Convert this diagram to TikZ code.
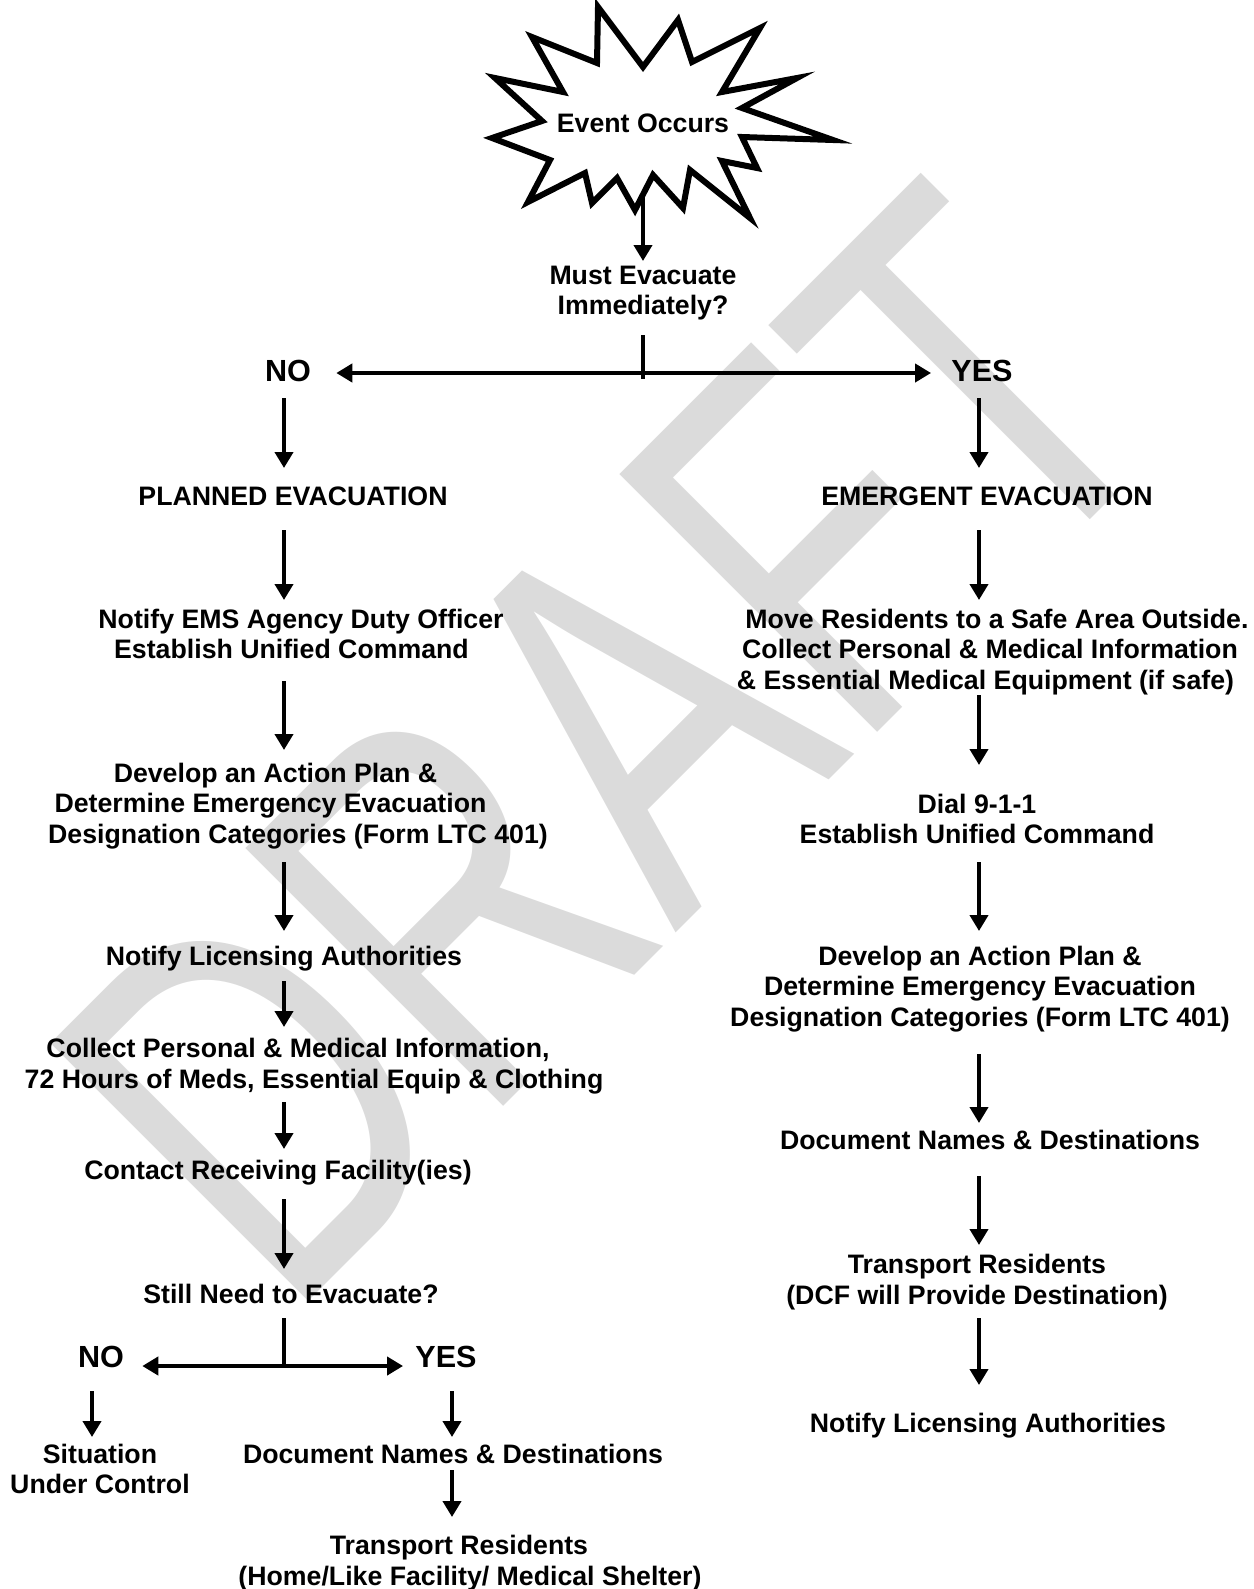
\documentclass[tikz,border=0pt]{standalone}
\usepackage{fontspec}
\setmainfont{Liberation Sans}
\usetikzlibrary{arrows.meta, positioning, calc}

\begin{document}
\begin{tikzpicture}[x=0.02cm, y=-0.02cm,
    lbl/.style={align=center, inner sep=0pt, font=\bfseries\fontsize{15.2}{17.3}\selectfont},
    yn/.style={inner sep=0pt, font=\bfseries\fontsize{17.4}{20}\selectfont},
    arr/.style={line width=0.09cm, -{Triangle[length=0.32cm, width=0.36cm]}},
    biarr/.style={line width=0.09cm, {Triangle[length=0.32cm, width=0.36cm]}-{Triangle[length=0.32cm, width=0.36cm]}},
    tee/.style={line width=0.09cm}]
    \useasboundingbox (0,0) rectangle (1254,1589);

    % watermark
    \node[text=black!14, inner sep=0pt] (draft) at (607,745)
        {\rotatebox{45}{\scalebox{1}[1.39]{\fontsize{217}{217}\selectfont DRAFT}}};

    % burst around the first event
    \draw[line width=0.12cm, line join=miter]
        (598,7) -- (643,67) -- (678,20) -- (692,62) -- (760,28) -- (722,92)
        -- (797,78) -- (742,108) -- (833,140) -- (742,137) -- (757,168)
        -- (722,161) -- (750,218) -- (690,170) -- (683,208) -- (653,175)
        -- (635,210) -- (617,178) -- (592,203) -- (585,173) -- (528,202)
        -- (550,160) -- (492,138) -- (542,121) -- (495,78) -- (563,92)
        -- (532,37) -- (597,63) -- cycle;
    \node[lbl] (event) at (643,123) {Event Occurs};
    \coordinate (starbot) at ($(event.center)+(0,73)$);

    \node[lbl] (must) at (643,293) {Must Evacuate\\Immediately?};
    \node[yn] (no1) at (288,371) {NO};
    \node[yn] (yes1) at (982,371) {YES};

    % planned side
    \node[lbl] (planned) at (293,496) {PLANNED EVACUATION};
    \node[lbl] (ems) at (301,634) {Notify EMS Agency Duty Officer\\Establish Unified Command\rule{0.38cm}{0pt}};
    \node[lbl] (develop1) at (298,806) {Develop an Action Plan \&\rule{0.9cm}{0pt}\\Determine Emergency Evacuation\rule{1.1cm}{0pt}\\Designation Categories (Form LTC 401)};
    \node[lbl] (lic1) at (284,959) {Notify Licensing Authorities};
    \node[lbl] (collect) at (314,1066) {Collect Personal \& Medical Information,\rule{0.64cm}{0pt}\\72 Hours of Meds, Essential Equip \& Clothing};
    \node[lbl] (contact) at (278,1173) {Contact Receiving Facility(ies)};
    \node[lbl] (still) at (291,1294) {Still Need to Evacuate?};
    \node[yn] (no2) at (101,1357) {NO};
    \node[yn] (yes2) at (446,1357) {YES};
    \node[lbl] (situation) at (100,1469) {Situation\\Under Control};
    \node[lbl] (docs1) at (453,1454) {Document Names \& Destinations};
    \node[lbl] (transport1) at (470,1563) {Transport Residents\rule{0.44cm}{0pt}\\(Home/Like Facility/ Medical Shelter)};

    % emergent side
    \node[lbl] (emergent) at (987,496) {EMERGENT EVACUATION};
    \node[lbl] (move) at (997,652) {Move Residents to a Safe Area Outside.\\Collect Personal \& Medical Information\rule{0.28cm}{0pt}\\\& Essential Medical Equipment (if safe)\rule{0.46cm}{0pt}};
    \node[lbl] (dial) at (977,819) {Dial 9-1-1\\Establish Unified Command};
    \node[lbl] (develop2) at (980,989) {Develop an Action Plan \&\\Determine Emergency Evacuation\\Designation Categories (Form LTC 401)};
    \node[lbl] (docs2) at (990,1140) {Document Names \& Destinations};
    \node[lbl] (transport2) at (977,1282) {Transport Residents\\(DCF will Provide Destination)};
    \node[lbl] (lic2) at (988,1426) {Notify Licensing Authorities};

    \coordinate (colL) at (284,0);
    \coordinate (colR) at (979,0);
    \coordinate (colN) at (92,0);
    \coordinate (colY) at (452,0);

    % first decision
    \draw[arr] (starbot) -- ($(must.center)+(0,-32)$);
    \coordinate (split1) at ($(must.center)+(0,80)$);
    \draw[tee] ($(must.center)+(0,42)$) -- ($(split1)+(0,6)$);
    \draw[biarr] ($(no1.east)+(25,2)$) -- ($(yes1.west)+(-20,2)$);

    % planned column
    \draw[arr] ($(no1.center -| colL)+(0,27)$) -- ($(planned.center -| colL)+(0,-28)$);
    \draw[arr] ($(planned.center -| colL)+(0,34)$) -- ($(ems.center -| colL)+(0,-34)$);
    \draw[arr] ($(ems.center -| colL)+(0,47)$) -- ($(develop1.center -| colL)+(0,-56)$);
    \draw[arr] ($(develop1.center -| colL)+(0,56)$) -- ($(lic1.center -| colL)+(0,-28)$);
    \draw[arr] ($(lic1.center -| colL)+(0,22)$) -- ($(collect.center -| colL)+(0,-39)$);
    \draw[arr] ($(collect.center -| colL)+(0,36)$) -- ($(contact.center -| colL)+(0,-24)$);
    \draw[arr] ($(contact.center -| colL)+(0,26)$) -- ($(still.center -| colL)+(0,-25)$);

    % second decision
    \coordinate (split2) at ($(still.center -| colL)+(0,72)$);
    \draw[tee] ($(still.center -| colL)+(0,24)$) -- (split2);
    \draw[biarr] ($(no2.east)+(18,9)$) -- ($(yes2.west)+(-12,9)$);
    \draw[arr] ($(no2.center -| colN)+(0,34)$) -- ($(situation.center -| colN)+(0,-32)$);
    \draw[arr] ($(yes2.center -| colY)+(0,34)$) -- ($(docs1.center -| colY)+(0,-17)$);
    \draw[arr] ($(docs1.center -| colY)+(0,16)$) -- ($(transport1.center -| colY)+(0,-46)$);

    % emergent column
    \draw[arr] ($(yes1.center -| colR)+(0,27)$) -- ($(emergent.center -| colR)+(0,-28)$);
    \draw[arr] ($(emergent.center -| colR)+(0,34)$) -- ($(move.center -| colR)+(0,-52)$);
    \draw[arr] ($(move.center -| colR)+(0,43)$) -- ($(dial.center -| colR)+(0,-54)$);
    \draw[arr] ($(dial.center -| colR)+(0,43)$) -- ($(develop2.center -| colR)+(0,-58)$);
    \draw[arr] ($(develop2.center -| colR)+(0,65)$) -- ($(docs2.center -| colR)+(0,-17)$);
    \draw[arr] ($(docs2.center -| colR)+(0,36)$) -- ($(transport2.center -| colR)+(0,-37)$);
    \draw[arr] ($(transport2.center -| colR)+(0,36)$) -- ($(lic2.center -| colR)+(0,-41)$);
\end{tikzpicture}
\end{document}
